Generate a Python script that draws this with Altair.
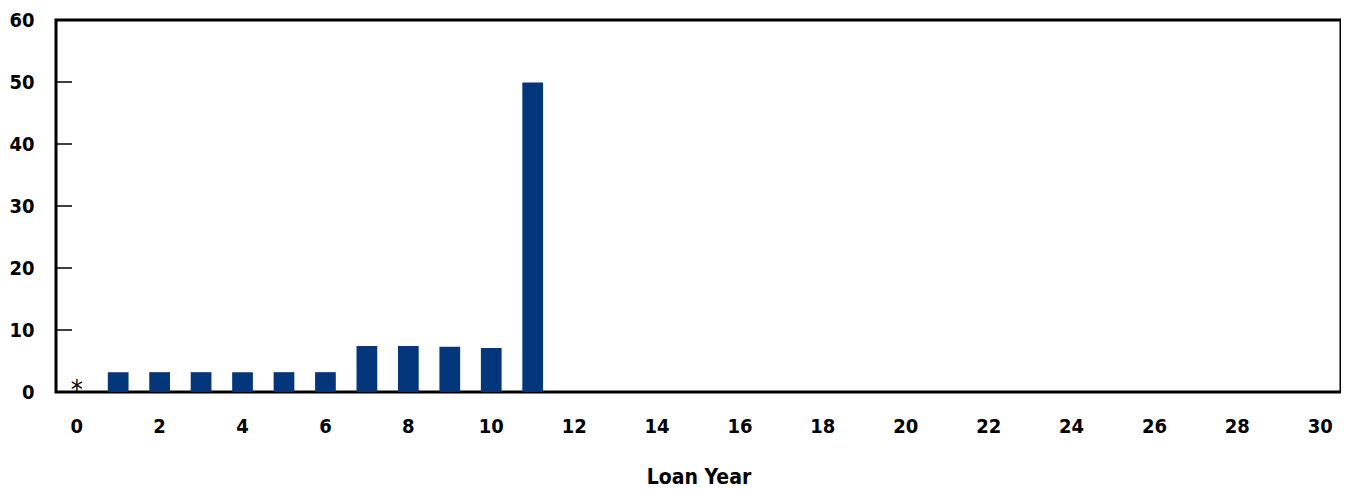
import altair as alt
import pandas as pd

years = list(range(0, 31))
values = [0, 3.2, 3.2, 3.2, 3.2, 3.2, 3.2, 7.4, 7.4, 7.3, 7.1, 49.9] + [0] * 19
y_ticks = [10, 20, 30, 40, 50]
x_labels = list(range(0, 31, 2))

df = pd.DataFrame({"year": years, "value": values})
star_df = pd.DataFrame({"year": [0], "value": [0], "label": ["*"]})
tick_df = pd.DataFrame({"value": y_ticks})

FONT = "DejaVu Sans Condensed"

xscale = alt.Scale(domain=years, paddingInner=0.5, paddingOuter=0.25)
yscale = alt.Scale(domain=[0, 60], nice=False)

bars = alt.Chart(df).mark_bar(color="#03367A").encode(
    x=alt.X("year:O", scale=xscale,
            axis=alt.Axis(values=x_labels, title="Loan Year", labelAngle=0, ticks=False,
                          domain=False, labelPadding=24, titlePadding=30,
                          labelFontSize=20, labelFontWeight="bold", labelFont=FONT,
                          titleFontSize=21, titleFontWeight="bold", titleFont=FONT,
                          labelColor="black", titleColor="black")),
    y=alt.Y("value:Q", scale=yscale,
            axis=alt.Axis(values=[0, 10, 20, 30, 40, 50, 60], title=None, ticks=False,
                          domain=False, grid=False, labelPadding=22,
                          labelFontSize=20, labelFontWeight="bold", labelFont=FONT,
                          labelColor="black")),
)

ticks = alt.Chart(tick_df).mark_rule(color="black", strokeWidth=1.5).encode(
    x=alt.value(0), x2=alt.value(16),
    y=alt.Y("value:Q", scale=yscale),
)

star = alt.Chart(star_df).mark_text(fontSize=27, font=FONT, baseline="alphabetic", dy=7, color="black").encode(
    x=alt.X("year:O", scale=xscale),
    y=alt.Y("value:Q", scale=yscale),
    text="label:N",
)

chart = alt.layer(bars, ticks, star).properties(
    width=1285, height=372,
    background="white",
    autosize=alt.AutoSizeParams(type="none"),
    padding={"left": 48, "top": 12, "right": 0, "bottom": 100},
).configure_view(stroke="black", strokeWidth=3)

chart.save("out.html", embed_options={"renderer": "svg", "actions": False})
